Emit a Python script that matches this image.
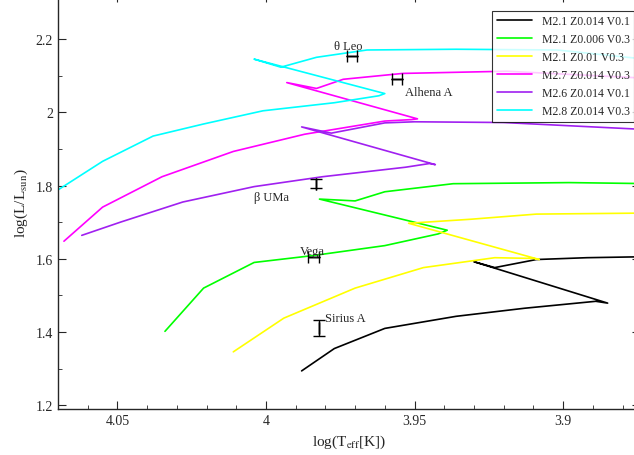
import numpy as np, pandas as pd, matplotlib
matplotlib.use("Agg")
import matplotlib.pyplot as plt, seaborn as sns

labels = ["M2.1 Z0.014 V0.1","M2.1 Z0.006 V0.3","M2.1 Z0.01 V0.3",
          "M2.7 Z0.014 V0.3","M2.6 Z0.014 V0.1","M2.8 Z0.014 V0.3"]
colors = ["#000000","#00ff00","#ffff00","#ff00ff","#a020f0","#00ffff"]

black_x = [3.988,3.977,3.960,3.936,3.913,3.889,3.885,3.930,3.923,3.909,3.892,3.870]
black_y = [1.294,1.355,1.410,1.443,1.465,1.484,1.479,1.592,1.576,1.598,1.603,1.606]
green_x = [4.034,4.021,4.004,3.984,3.960,3.942,3.939,3.982,3.970,3.960,3.937,3.898,3.870]
green_y = [1.402,1.520,1.590,1.609,1.636,1.668,1.678,1.763,1.758,1.783,1.805,1.808,1.805]
yellow_x = [4.011,3.994,3.970,3.947,3.923,3.910,3.908,3.952,3.931,3.909,3.870]
yellow_y = [1.346,1.438,1.520,1.576,1.603,1.601,1.598,1.697,1.708,1.722,1.725]
magenta_x = [4.068,4.055,4.035,4.011,3.987,3.960,3.951,3.949,3.993,3.983,3.974,3.954,3.919,3.870]
magenta_y = [1.648,1.741,1.824,1.893,1.940,1.976,1.980,1.982,2.081,2.065,2.090,2.106,2.112,2.092]
purple_x = [4.062,4.049,4.028,4.004,3.981,3.953,3.945,3.943,3.988,3.978,3.960,3.950,3.920,3.870]
purple_y = [1.664,1.700,1.755,1.797,1.824,1.850,1.860,1.857,1.960,1.943,1.971,1.974,1.972,1.952]
cyan_x = [4.075,4.070,4.055,4.038,4.021,4.001,3.977,3.962,3.960,4.004,3.995,3.983,3.966,3.936,3.902,3.870]
cyan_y = [1.775,1.788,1.866,1.935,1.968,2.004,2.026,2.045,2.051,2.145,2.123,2.150,2.170,2.172,2.170,2.143]

tracks = [(black_x,black_y),(green_x,green_y),(yellow_x,yellow_y),
          (magenta_x,magenta_y),(purple_x,purple_y),(cyan_x,cyan_y)]

star_names = ["θ Leo","Alhena A","β UMa","Vega","Sirius A"]
star_x = [3.971,3.956,3.983,3.984,3.982]
star_y = [2.153,2.090,1.805,1.606,1.410]
star_xerr = [0.0017,0.0017,0.0,0.0017,0.0]
star_yerr = [0.0,0.0,0.012,0.0,0.022]

rows = []
for lab,(xs,ys) in zip(labels,tracks):
    for i,(a,b) in enumerate(zip(xs,ys)):
        rows.append((lab,i,a,b))
df = pd.DataFrame(rows, columns=["model","i","logT","logL"])

sns.set_style("ticks")
plt.rcParams['font.family'] = ['Liberation Serif','DejaVu Serif']
plt.rcParams['mathtext.fontset'] = 'stix'
fig = plt.figure(figsize=(6.34,4.56), dpi=100)
ax = fig.add_axes([58/634, 46/456, 1-58/634+0.01, 1-46/456+0.01])
sns.lineplot(data=df, x="logT", y="logL", hue="model", hue_order=labels,
             palette=colors, sort=False, estimator=None, units="model",
             lw=1.2, ax=ax)
ax.errorbar(star_x, star_y, xerr=star_xerr, yerr=star_yerr, fmt='none',
            ecolor='black', elinewidth=1, capsize=4)
offs = [(-13,5),(6,-11),(-20,-12),(-10,2),(4,5)]
for n,x,y,(dx,dy) in zip(star_names,star_x,star_y,offs):
    ax.annotate(n,(x,y),xytext=(dx,dy),textcoords='offset points',fontsize=9,
                ha='left' if n!="β UMa" else 'right')
ax.set_xlim(4.0697,3.874)
ax.set_ylim(1.19,2.3216)
ax.set_xticks([4.05,4.0,3.95,3.9]); ax.set_xticklabels(["4.05","4","3.95","3.9"])
ax.set_yticks([1.2,1.4,1.6,1.8,2.0,2.2]); ax.set_yticklabels(["1.2","1.4","1.6","1.8","2","2.2"])
ax.set_xticks(np.arange(3.88,4.07,0.01), minor=True)
ax.set_yticks(np.arange(1.2,2.3,0.1), minor=True)
ax.tick_params(direction='in', which='both', top=True, right=True, labelsize=10)
ax.tick_params(which='major', length=6); ax.tick_params(which='minor', length=3)
ax.set_xlabel(r"log(T$_{\rm eff}$[K])", fontsize=11)
ax.set_ylabel(r"log(L/L$_{\rm sun}$)", fontsize=11)
leg = ax.legend(loc='upper right', bbox_to_anchor=(1.0,0.975), fontsize=8.5,
                frameon=True, fancybox=False, edgecolor='black', handlelength=3)
leg.get_frame().set_linewidth(0.8)
for s in ax.spines.values(): s.set_linewidth(1)
fig.savefig("out.png", dpi=100)
